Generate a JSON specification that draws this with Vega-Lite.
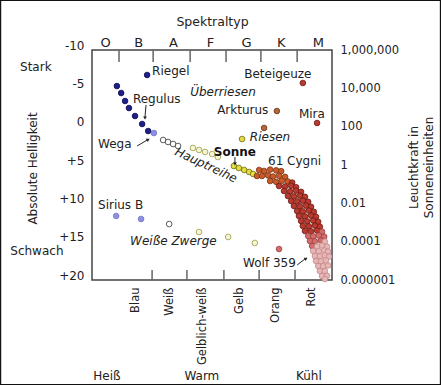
{
  "$schema": "https://vega.github.io/schema/vega-lite/v6.json",
  "width": 240,
  "height": 230,
  "autosize": {"type": "none"},
  "padding": {"left": 92, "top": 50, "right": 109, "bottom": 105},
  "background": "white",
  "datasets": {
    "sterne": [
      {"s": 1.80, "M": -6.74, "typ": "blau"},
      {"s": 0.95, "M": -5.30, "typ": "blau"},
      {"s": 1.07, "M": -4.39, "typ": "blau"},
      {"s": 1.18, "M": -3.35, "typ": "blau"},
      {"s": 1.29, "M": -2.43, "typ": "blau"},
      {"s": 1.46, "M": -1.39, "typ": "blau"},
      {"s": 1.66, "M": -0.35, "typ": "blau"},
      {"s": 1.83, "M": 0.57, "typ": "blau"},
      {"s": 1.99, "M": 0.83, "typ": "hellblau"},
      {"s": 2.25, "M": 1.74, "typ": "weiss"},
      {"s": 2.39, "M": 2.00, "typ": "weiss"},
      {"s": 2.53, "M": 2.26, "typ": "weiss"},
      {"s": 2.67, "M": 2.52, "typ": "weiss"},
      {"s": 3.09, "M": 2.78, "typ": "gelblichweiss"},
      {"s": 3.26, "M": 3.04, "typ": "gelblichweiss"},
      {"s": 3.43, "M": 3.30, "typ": "gelblichweiss"},
      {"s": 3.63, "M": 3.57, "typ": "gelblichweiss"},
      {"s": 3.79, "M": 3.96, "typ": "gelblichweiss"},
      {"s": 4.24, "M": 5.13, "typ": "gelb"},
      {"s": 4.38, "M": 5.39, "typ": "gelb"},
      {"s": 4.53, "M": 5.65, "typ": "gelb"},
      {"s": 4.67, "M": 5.91, "typ": "gelb"},
      {"s": 4.78, "M": 6.17, "typ": "gelb"},
      {"s": 4.89, "M": 6.43, "typ": "orange"},
      {"s": 4.47, "M": 1.61, "typ": "gelb"},
      {"s": 5.45, "M": -2.04, "typ": "braun"},
      {"s": 5.09, "M": 0.17, "typ": "braun"},
      {"s": 6.18, "M": -5.70, "typ": "rot"},
      {"s": 6.58, "M": -0.48, "typ": "rot"},
      {"s": 0.93, "M": 11.65, "typ": "hellblau_gross"},
      {"s": 1.63, "M": 12.04, "typ": "hellblau"},
      {"s": 2.42, "M": 12.70, "typ": "weiss"},
      {"s": 3.26, "M": 13.74, "typ": "gelblichweiss"},
      {"s": 4.08, "M": 14.39, "typ": "gelblichweiss"},
      {"s": 4.83, "M": 15.17, "typ": "gelblichweiss"},
      {"s": 5.51, "M": 15.96, "typ": "rosa"},
      {"s": 4.95, "M": 5.65, "typ": "orange"},
      {"s": 5.09, "M": 5.78, "typ": "orange"},
      {"s": 5.26, "M": 5.60, "typ": "orange"},
      {"s": 5.43, "M": 5.70, "typ": "orange"},
      {"s": 5.57, "M": 5.80, "typ": "orange"},
      {"s": 5.03, "M": 6.43, "typ": "orange"},
      {"s": 5.20, "M": 6.35, "typ": "orange"},
      {"s": 5.34, "M": 6.50, "typ": "orange"},
      {"s": 5.51, "M": 6.40, "typ": "orange"},
      {"s": 5.68, "M": 6.55, "typ": "orange"},
      {"s": 5.26, "M": 7.09, "typ": "orange"},
      {"s": 5.43, "M": 7.20, "typ": "orange"},
      {"s": 5.59, "M": 7.05, "typ": "orange"},
      {"s": 5.76, "M": 7.15, "typ": "orange"},
      {"s": 5.88, "M": 7.30, "typ": "rot"},
      {"s": 5.51, "M": 7.74, "typ": "rot"},
      {"s": 5.68, "M": 7.80, "typ": "rot"},
      {"s": 5.85, "M": 7.70, "typ": "rot"},
      {"s": 5.99, "M": 7.90, "typ": "rot"},
      {"s": 5.65, "M": 8.39, "typ": "rot"},
      {"s": 5.82, "M": 8.45, "typ": "rot"},
      {"s": 5.99, "M": 8.35, "typ": "rot"},
      {"s": 6.13, "M": 8.50, "typ": "rot"},
      {"s": 5.76, "M": 9.04, "typ": "rot"},
      {"s": 5.93, "M": 9.10, "typ": "rot"},
      {"s": 6.10, "M": 9.00, "typ": "rot"},
      {"s": 6.24, "M": 9.15, "typ": "rot"},
      {"s": 5.85, "M": 9.70, "typ": "rot"},
      {"s": 6.02, "M": 9.75, "typ": "rot"},
      {"s": 6.18, "M": 9.65, "typ": "rot"},
      {"s": 6.33, "M": 9.80, "typ": "rot"},
      {"s": 5.93, "M": 10.35, "typ": "rot"},
      {"s": 6.10, "M": 10.40, "typ": "rot"},
      {"s": 6.27, "M": 10.30, "typ": "rot"},
      {"s": 6.41, "M": 10.45, "typ": "rot"},
      {"s": 6.02, "M": 11.00, "typ": "rot"},
      {"s": 6.18, "M": 11.05, "typ": "rot"},
      {"s": 6.35, "M": 10.95, "typ": "rot"},
      {"s": 6.49, "M": 11.10, "typ": "rot"},
      {"s": 6.07, "M": 11.65, "typ": "rot"},
      {"s": 6.24, "M": 11.70, "typ": "rot"},
      {"s": 6.41, "M": 11.60, "typ": "rot"},
      {"s": 6.55, "M": 11.75, "typ": "rot"},
      {"s": 6.13, "M": 12.30, "typ": "rot"},
      {"s": 6.30, "M": 12.35, "typ": "rot"},
      {"s": 6.47, "M": 12.25, "typ": "rot"},
      {"s": 6.61, "M": 12.40, "typ": "rot"},
      {"s": 6.18, "M": 12.96, "typ": "rot"},
      {"s": 6.35, "M": 13.00, "typ": "rot"},
      {"s": 6.52, "M": 12.90, "typ": "rot"},
      {"s": 6.66, "M": 13.05, "typ": "rot"},
      {"s": 6.24, "M": 13.61, "typ": "rot"},
      {"s": 6.41, "M": 13.65, "typ": "rot"},
      {"s": 6.58, "M": 13.55, "typ": "rot"},
      {"s": 6.72, "M": 13.70, "typ": "rosa"},
      {"s": 6.33, "M": 14.26, "typ": "rosa"},
      {"s": 6.47, "M": 14.30, "typ": "rosa"},
      {"s": 6.63, "M": 14.20, "typ": "rosa"},
      {"s": 6.78, "M": 14.35, "typ": "rosa"},
      {"s": 6.38, "M": 14.91, "typ": "rosa"},
      {"s": 6.52, "M": 14.95, "typ": "rosa"},
      {"s": 6.69, "M": 14.85, "typ": "rosa"},
      {"s": 6.80, "M": 15.00, "typ": "hellrosa"},
      {"s": 6.44, "M": 15.57, "typ": "rosa"},
      {"s": 6.58, "M": 15.60, "typ": "hellrosa"},
      {"s": 6.72, "M": 15.50, "typ": "hellrosa"},
      {"s": 6.86, "M": 15.65, "typ": "hellrosa"},
      {"s": 6.47, "M": 16.22, "typ": "hellrosa"},
      {"s": 6.63, "M": 16.25, "typ": "hellrosa"},
      {"s": 6.78, "M": 16.15, "typ": "hellrosa"},
      {"s": 6.89, "M": 16.30, "typ": "hellrosa"},
      {"s": 6.52, "M": 16.87, "typ": "hellrosa"},
      {"s": 6.66, "M": 16.90, "typ": "hellrosa"},
      {"s": 6.80, "M": 16.80, "typ": "hellrosa"},
      {"s": 6.92, "M": 16.95, "typ": "hellrosa"},
      {"s": 6.55, "M": 17.52, "typ": "hellrosa"},
      {"s": 6.69, "M": 17.55, "typ": "hellrosa"},
      {"s": 6.83, "M": 17.45, "typ": "hellrosa"},
      {"s": 6.61, "M": 18.17, "typ": "hellrosa"},
      {"s": 6.75, "M": 18.20, "typ": "hellrosa"},
      {"s": 6.89, "M": 18.10, "typ": "hellrosa"},
      {"s": 6.66, "M": 18.83, "typ": "hellrosa"},
      {"s": 6.80, "M": 18.85, "typ": "hellrosa"},
      {"s": 6.72, "M": 19.48, "typ": "hellrosa"},
      {"s": 6.86, "M": 19.45, "typ": "hellrosa"},
      {"s": 6.80, "M": 19.87, "typ": "hellrosa"}
    ],
    "beschriftung": [
      {"s": 1.94, "M": -7.26, "label": "Riegel", "art": "stern"},
      {"s": 1.40, "M": -3.61, "label": "Regulus", "art": "stern"},
      {"s": 4.53, "M": -6.87, "label": "Beteigeuze", "art": "stern"},
      {"s": 3.77, "M": -2.17, "label": "Arkturus", "art": "stern"},
      {"s": 6.07, "M": -1.65, "label": "Mira", "art": "stern"},
      {"s": 5.20, "M": 4.48, "label": "61 Cygni", "art": "stern"},
      {"s": 0.42, "M": 2.26, "label": "Wega", "art": "stern"},
      {"s": 0.42, "M": 10.22, "label": "Sirius B", "art": "stern"},
      {"s": 4.50, "M": 17.78, "label": "Wolf 359", "art": "stern"},
      {"s": 3.01, "M": -4.52, "label": "Überriesen", "art": "gruppe"},
      {"s": 4.69, "M": 1.35, "label": "Riesen", "art": "gruppe"},
      {"s": 1.32, "M": 14.91, "label": "Weiße Zwerge", "art": "gruppe"},
      {"s": 4.27, "M": 3.30, "label": "Sonne", "art": "sonne"},
      {"s": 3.46, "M": 5.00, "label": "Hauptreihe", "art": "hauptreihe"},
      {"s": -1.33, "M": -7.78, "label": "Stark", "art": "achse"},
      {"s": -1.30, "M": 16.22, "label": "Schwach", "art": "achse"},
      {"s": 0.67, "M": 32.52, "label": "Heiß", "art": "achse"},
      {"s": 3.34, "M": 32.52, "label": "Warm", "art": "achse"},
      {"s": 6.35, "M": 32.52, "label": "Kühl", "art": "achse"}
    ],
    "pfeile": [
      {"s": 1.77, "M": -2.83, "s2": 1.74, "M2": -1.25},
      {"s": 1.52, "M": 2.52, "s2": 1.80, "M2": 1.74},
      {"s": 4.27, "M": 3.96, "s2": 4.27, "M2": 4.70},
      {"s": 6.02, "M": 18.04, "s2": 6.24, "M2": 17.26}
    ],
    "spitzen": [
      {"s": 1.74, "M": -1.13, "richtung": "unten"},
      {"s": 4.27, "M": 4.85, "richtung": "unten"},
      {"s": 1.83, "M": 1.68, "richtung": "oben_rechts"},
      {"s": 6.27, "M": 17.20, "richtung": "oben_rechts"}
    ],
    "striche": [
      {"s": 1.01, "M": -10, "M2": -8.45},
      {"s": 1.97, "M": -10, "M2": -8.45},
      {"s": 3.01, "M": -10, "M2": -8.45},
      {"s": 4.02, "M": -10, "M2": -8.45},
      {"s": 5.00, "M": -10, "M2": -8.45},
      {"s": 6.02, "M": -10, "M2": -8.45},
      {"s": 1.94, "M": 20, "M2": 18.7},
      {"s": 2.92, "M": 20, "M2": 18.7},
      {"s": 3.96, "M": 20, "M2": 18.7},
      {"s": 4.95, "M": 20, "M2": 18.7},
      {"s": 5.96, "M": 20, "M2": 18.7}
    ],
    "rahmen": [
      {"s": -2.32, "M": -16.46, "s2": 10.05, "M2": 33.63}
    ]
  },
  "encoding": {
    "x": {"field": "s", "type": "quantitative", "scale": {"domain": [0.25, 7.0], "nice": false, "zero": false}, "axis": null},
    "y": {"field": "M", "type": "quantitative", "scale": {"domain": [-10, 20], "reverse": true, "nice": false, "zero": false}, "axis": null}
  },
  "layer": [
    {
      "data": {"name": "rahmen"},
      "mark": {"type": "rect", "fill": null, "fillOpacity": 0, "stroke": "#111", "strokeWidth": 1.2},
      "encoding": {"x2": {"field": "s2"}, "y2": {"field": "M2"}}
    },
    {
      "data": {"name": "striche"},
      "mark": {"type": "rule", "color": "#666", "strokeWidth": 1.5},
      "encoding": {"y2": {"field": "M2"}}
    },
    {
      "data": {"name": "sterne"},
      "mark": {"type": "point", "filled": true, "strokeWidth": 0.8, "opacity": 1},
      "encoding": {
        "x": {"field": "s", "type": "quantitative", "scale": {"domain": [0.25, 7.0], "nice": false, "zero": false},
          "axis": {"orient": "top", "values": [0.62, 1.55, 2.53, 3.57, 4.58, 5.56, 6.6], "labelExpr": "['O','B','A','F','G','K','M'][floor(datum.value)]", "labelAngle": 0, "labelPadding": 1, "labelFontSize": 13, "title": "Spektraltyp", "titleFontSize": 12.5, "titlePadding": 8}},
        "y": {"field": "M", "type": "quantitative", "scale": {"domain": [-10, 20], "reverse": true, "nice": false, "zero": false},
          "axis": {"orient": "left", "values": [-10, -5, 0, 5, 10, 15, 20], "labelExpr": "datum.value > 0 ? '+' + datum.value : '' + datum.value", "labelPadding": 8, "labelOffset": -5, "labelFontSize": 12, "title": "Absolute Helligkeit", "titleFontSize": 12, "titleAngle": 270, "titleX": -60, "titleY": 118, "titleAlign": "center", "titleBaseline": "middle"}},
        "fill": {"field": "typ", "type": "nominal", "legend": null,
          "scale": {"domain": ["blau", "hellblau", "hellblau_gross", "weiss", "gelblichweiss", "gelb", "orange", "braun", "rot", "rosa", "hellrosa"],
                    "range": ["#1e1e8c", "#8f8fe3", "#8f8fe3", "#ffffff", "#f6f5d8", "#e4dc40", "#c95a2a", "#b5653a", "#bb3a30", "#d46c6c", "#e9b6b6"]}},
        "stroke": {"field": "typ", "type": "nominal", "legend": null,
          "scale": {"domain": ["blau", "hellblau", "hellblau_gross", "weiss", "gelblichweiss", "gelb", "orange", "braun", "rot", "rosa", "hellrosa"],
                    "range": ["#0c0c50", "#7070c8", "#7777cc", "#333333", "#9a9a3c", "#6c6c12", "#7a3412", "#6a3618", "#6a1a14", "#9a4040", "#c08888"]}},
        "size": {"field": "typ", "type": "nominal", "legend": null,
          "scale": {"domain": ["blau", "hellblau", "hellblau_gross", "weiss", "gelblichweiss", "gelb", "orange", "braun", "rot", "rosa", "hellrosa"],
                    "range": [32, 32, 55, 16, 18, 22, 32, 30, 32, 32, 32]}}
      }
    },
    {
      "data": {"name": "pfeile"},
      "mark": {"type": "rule", "color": "#222", "strokeWidth": 1},
      "encoding": {"x2": {"field": "s2"}, "y2": {"field": "M2"}}
    },
    {
      "data": {"name": "spitzen"},
      "transform": [{"filter": "datum.richtung === 'unten'"}],
      "mark": {"type": "point", "shape": "triangle-down", "filled": true, "color": "#222", "size": 14, "opacity": 1},
      "encoding": {}
    },
    {
      "data": {"name": "spitzen"},
      "transform": [{"filter": "datum.richtung === 'oben_rechts'"}],
      "mark": {"type": "point", "shape": "triangle-up", "filled": true, "color": "#222", "size": 14, "angle": 58, "opacity": 1},
      "encoding": {}
    },
    {
      "data": {"name": "beschriftung"},
      "transform": [{"filter": "datum.art === 'stern'"}],
      "mark": {"type": "text", "align": "left", "baseline": "middle", "fontSize": 12, "color": "#222"},
      "encoding": {
        "text": {"field": "label"},
        "x": {"field": "s", "type": "quantitative", "scale": {"domain": [0.25, 7.0], "nice": false, "zero": false},
          "axis": {"orient": "bottom", "values": [1.46, 2.44, 3.37, 4.41, 5.40, 6.41], "labelExpr": "['Blau','Weiß','Gelblich-weiß','Gelb','Orang','Rot'][floor(datum.value)-1]", "labelAngle": -90, "labelPadding": 7, "labelFontSize": 11.5, "title": null}},
        "y": {"field": "M", "type": "quantitative", "scale": {"domain": [-10, 20], "reverse": true, "nice": false, "zero": false},
          "axis": {"orient": "right", "values": [-10, -5, 0, 5, 10, 15, 20], "labelExpr": "['1,000,000','10,000','100','1','0.01','0.0001','0.000001'][(datum.value+10)/5]", "labelPadding": 8, "labelFontSize": 11.5, "title": ["Leuchtkraft in", "Sonneneinheiten"], "titleFontSize": 12, "titleAngle": 270, "titleX": 81, "titleY": 117, "titleAlign": "center", "titleBaseline": "middle", "titleLineHeight": 15}}
      }
    },
    {
      "data": {"name": "beschriftung"},
      "transform": [{"filter": "datum.art === 'gruppe'"}],
      "mark": {"type": "text", "align": "left", "baseline": "middle", "fontSize": 12, "fontStyle": "italic", "color": "#222"},
      "encoding": {"text": {"field": "label"}}
    },
    {
      "data": {"name": "beschriftung"},
      "transform": [{"filter": "datum.art === 'sonne'"}],
      "mark": {"type": "text", "align": "center", "baseline": "middle", "fontSize": 12, "fontWeight": "bold", "color": "#111"},
      "encoding": {"text": {"field": "label"}}
    },
    {
      "data": {"name": "beschriftung"},
      "transform": [{"filter": "datum.art === 'hauptreihe'"}],
      "mark": {"type": "text", "align": "center", "baseline": "middle", "fontSize": 12, "fontStyle": "italic", "angle": 25, "color": "#222"},
      "encoding": {"text": {"field": "label"}}
    },
    {
      "data": {"name": "beschriftung"},
      "transform": [{"filter": "datum.art === 'achse'"}],
      "mark": {"type": "text", "align": "center", "baseline": "middle", "fontSize": 12, "color": "#222"},
      "encoding": {"text": {"field": "label"}}
    }
  ],
  "resolve": {"axis": {"x": "independent", "y": "independent"}},
  "config": {
    "font": "DejaVu Sans",
    "view": {"stroke": "#444", "strokeWidth": 1.5},
    "axis": {"labelColor": "#222", "titleColor": "#222", "labelFont": "DejaVu Sans", "titleFont": "DejaVu Sans", "grid": false, "ticks": false, "domain": false, "labelOverlap": false, "labelFlush": false, "titleFontWeight": "normal"},
    "text": {"color": "#222", "fontSize": 12}
  }
}
